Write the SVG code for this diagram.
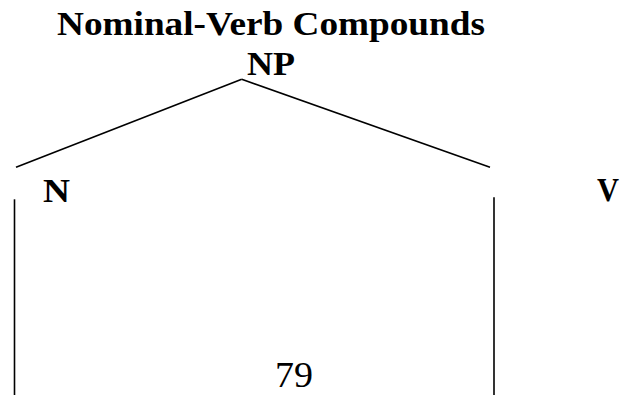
<svg xmlns="http://www.w3.org/2000/svg" width="621" height="395" viewBox="0 0 621 395">
  <style>
    .lbl { font-family: "Liberation Serif", "Times New Roman", serif; font-weight: bold; font-size: 33px; fill: #000; }
    .num { font-family: "Liberation Serif", "Times New Roman", serif; font-size: 35px; fill: #000; }
    .edge { stroke: #000; stroke-width: 1.6; fill: none; }
  </style>
  <rect width="621" height="395" fill="#fff"/>
  <g id="title">
    <text class="lbl" x="57" y="35" textLength="428" lengthAdjust="spacingAndGlyphs">Nominal-Verb Compounds</text>
  </g>
  <g id="node-NP">
    <text class="lbl" x="247" y="75" textLength="48" lengthAdjust="spacingAndGlyphs">NP</text>
  </g>
  <g id="node-N">
    <text class="lbl" x="43" y="201.5" textLength="27" lengthAdjust="spacingAndGlyphs">N</text>
  </g>
  <g id="node-V">
    <text class="lbl" x="597" y="200.5" textLength="22" lengthAdjust="spacingAndGlyphs">V</text>
  </g>
  <g id="page-number">
    <text class="num" x="275" y="386.5" textLength="38" lengthAdjust="spacingAndGlyphs">79</text>
  </g>
  <g id="connectors">
    <line class="edge" x1="241.7" y1="79.3" x2="16" y2="167.3"/>
    <line class="edge" x1="241.7" y1="79.3" x2="490" y2="167.3"/>
    <line class="edge" x1="14.5" y1="199.3" x2="14.5" y2="395"/>
    <line class="edge" x1="494" y1="197.3" x2="494" y2="395"/>
  </g>
</svg>
